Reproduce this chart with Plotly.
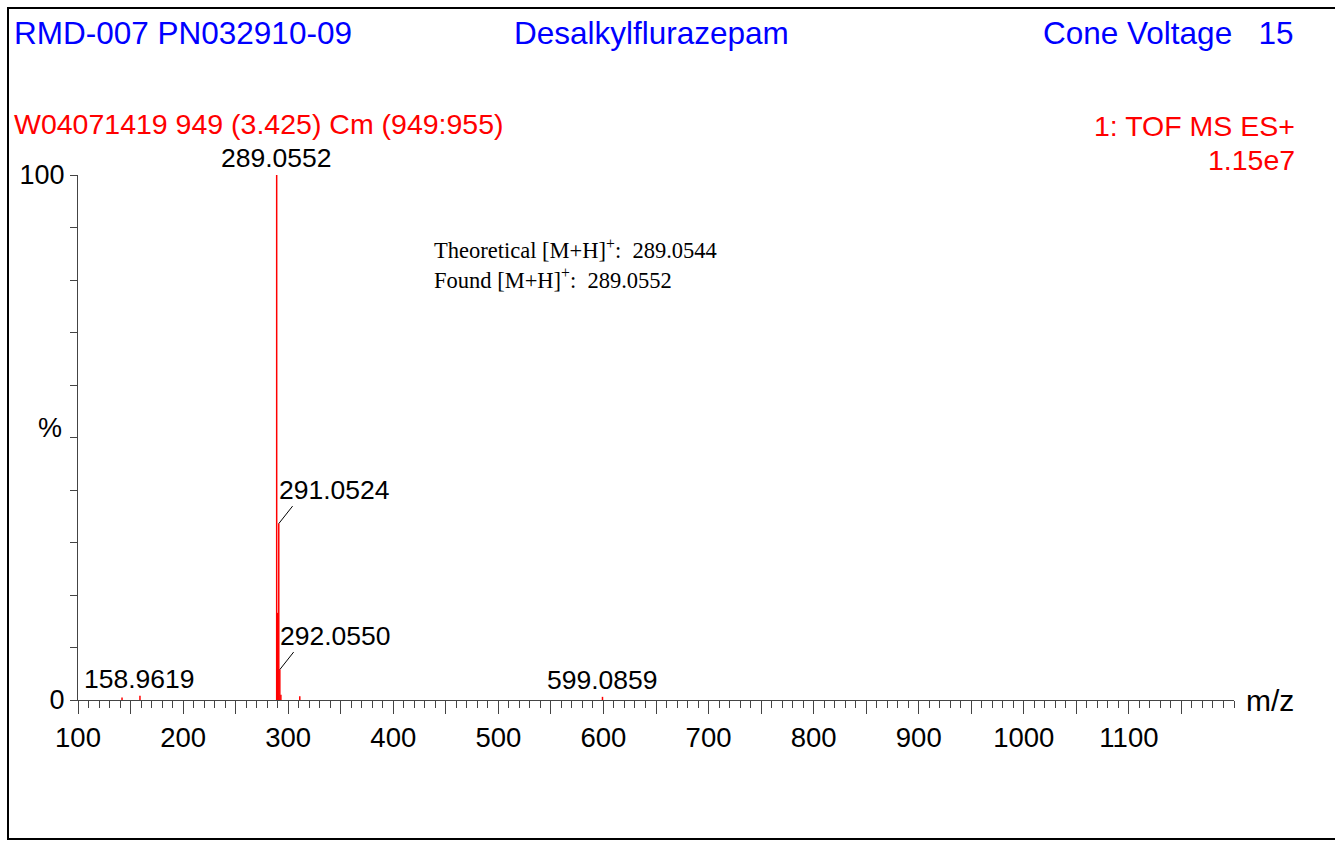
import plotly.graph_objects as go

# ---- data ----
peak_mz = [141.9, 158.9619, 289.0552, 290.058, 291.0524, 292.0550, 293.052, 311.04, 599.0859]
peak_int = [0.5, 0.8, 100.0, 16.6, 33.6, 5.8, 1.0, 0.7, 0.6]

labeled_mz = [289.0552, 291.0524, 292.0550, 158.9619, 599.0859]
labeled_txt = ["289.0552", "291.0524", "292.0550", "158.9619", "599.0859"]

x_major = list(range(100, 1200, 50))
x_major_text = [str(v) if v % 100 == 0 else "" for v in x_major]
y_ticks = list(range(0, 101, 10))
y_ticktext = ["0", "", "", "", "", "", "", "", "", "", "100"]
y_title = "%"

header_blue = ["RMD-007 PN032910-09", "Desalkylflurazepam", "Cone Voltage   15"]
header_red = ["W04071419 949 (3.425) Cm (949:955)", "1: TOF MS ES+", "1.15e7"]
note_lines = ["Theoretical [M+H]<sup>+</sup>:  289.0544", "Found [M+H]<sup>+</sup>:  289.0552"]

# ---- layout geometry (pixels) ----
W, H = 1335, 841
L, R, T, B = 78, 101, 175, 141
PW, PH = W - L - R, H - T - B

def px(p):
    return (p - L) / PW

def py(p):
    return (H - B - p) / PH

FONT = "Liberation Sans, Arial, sans-serif"
SERIF = "Liberation Serif, Times New Roman, serif"

xs, ys = [], []
for m, i in zip(peak_mz, peak_int):
    xs += [m, m, None]
    ys += [0, i, None]

fig = go.Figure()
fig.add_trace(go.Scatter(x=xs, y=ys, mode="lines",
                         line=dict(color="#ff0000", width=1.5),
                         hoverinfo="skip", showlegend=False))

ann = []
blue = dict(color="#0000ff", size=31.5, family=FONT)
red = dict(color="#ff0000", size=28.5, family=FONT)
ann.append(dict(x=px(12), y=py(33), text=header_blue[0], xanchor="left", font=blue))
ann.append(dict(x=px(651), y=py(33), text=header_blue[1], xanchor="center", font=blue))
ann.append(dict(x=px(1295), y=py(33), text=header_blue[2], xanchor="right", font=blue))
ann.append(dict(x=px(12), y=py(124), text=header_red[0], xanchor="left", font=red))
ann.append(dict(x=px(1297), y=py(126), text=header_red[1], xanchor="right", font=red))
ann.append(dict(x=px(1297), y=py(160), text=header_red[2], xanchor="right", font=red))
serif = dict(color="black", size=22.5, family=SERIF)
ann.append(dict(x=px(432), y=py(264), text="<br>".join(note_lines), xanchor="left",
                align="left", font=serif))
ann.append(dict(x=px(1244), y=py(700), text="m/z", xanchor="left",
                font=dict(color="black", size=30, family=FONT)))
ann.append(dict(x=px(64), y=py(428), text=y_title, xanchor="right",
                font=dict(color="black", size=27, family=FONT)))
for a in ann:
    a.update(xref="paper", yref="paper", showarrow=False, yanchor="middle")

lab_int = {m: i for m, i in zip(peak_mz, peak_int)}
pk_font = dict(color="black", size=26.5, family=FONT)
ann.append(dict(x=labeled_mz[0], y=lab_int[labeled_mz[0]], text=labeled_txt[0],
                showarrow=False, xanchor="center", yanchor="bottom", font=pk_font))
for m, t in zip(labeled_mz[1:3], labeled_txt[1:3]):
    ann.append(dict(x=m, y=lab_int[m], text=t, showarrow=False, xanchor="left",
                    yanchor="bottom", xshift=-2, yshift=17, font=pk_font))
    ann.append(dict(x=m, y=lab_int[m], text="", showarrow=True, arrowhead=0,
                    arrowwidth=1, arrowcolor="black", ax=15, ay=-19, standoff=0,
                    startstandoff=0))
for m, t in zip(labeled_mz[3:], labeled_txt[3:]):
    ann.append(dict(x=m, y=lab_int[m], text=t, showarrow=False, xanchor="center",
                    yanchor="bottom", font=pk_font))

fig.update_layout(
    width=W, height=H, autosize=False,
    margin=dict(l=L, r=R, t=T, b=B),
    paper_bgcolor="white", plot_bgcolor="white",
    annotations=ann,
    xaxis=dict(range=[100, 1200], showgrid=False, zeroline=False,
               showline=True, linecolor="#444", linewidth=1,
               tickmode="array", tickvals=x_major, ticktext=x_major_text,
               ticks="outside", ticklen=13, tickwidth=1, tickcolor="#444",
               tickfont=dict(size=27.5, family=FONT, color="black"),
               minor=dict(dtick=10, ticks="outside", ticklen=7, tickwidth=1, tickcolor="#444"),
               fixedrange=True),
    yaxis=dict(range=[0, 100], showgrid=False, zeroline=False,
               showline=True, linecolor="#444", linewidth=1,
               tickmode="array", tickvals=y_ticks, ticktext=y_ticktext,
               ticks="outside", ticklen=7, tickwidth=1, tickcolor="#444",
               tickfont=dict(size=27, family=FONT, color="black"),
               fixedrange=True),
    shapes=[dict(type="rect", xref="paper", yref="paper",
                 x0=px(8), x1=px(1345), y0=py(8), y1=py(839),
                 line=dict(color="black", width=2), fillcolor="rgba(0,0,0,0)")],
)

fig.write_html("out.html", config={"displayModeBar": False},
               post_script="document.body.style.margin='0';document.body.style.overflow='hidden';")
